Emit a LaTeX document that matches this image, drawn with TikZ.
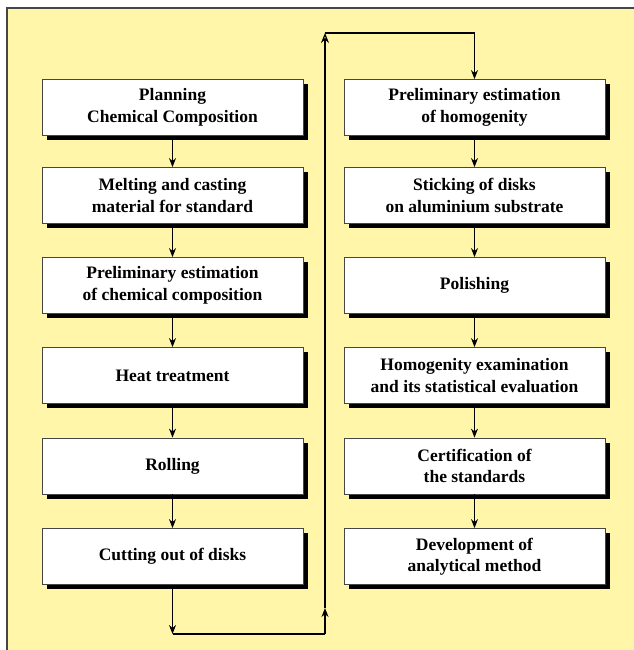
\documentclass[tikz,border=0pt]{standalone}
\usepackage{fontspec}
\setmainfont{Liberation Serif}
\usetikzlibrary{arrows.meta,shadows}
\definecolor{bgyellow}{RGB}{255,246,170}
\definecolor{framegray}{RGB}{70,70,70}
\tikzset{
  stepbox/.style={draw=framegray, line width=0.8pt, fill=white, minimum width=261pt, minimum height=56pt,
    inner sep=0pt, align=center, font=\fontsize{17.5}{21.5}\selectfont\bfseries,
    drop shadow={shadow xshift=4.5pt, shadow yshift=-4.5pt, fill=black, opacity=1}},
  conn/.style={line width=1.2pt, black},
  arr/.style={conn, -{Stealth[length=9pt,width=7pt]}},
  openarr/.style={conn, -{Stealth[open,length=10pt,width=8pt]}}
}
\begin{document}
\begin{tikzpicture}[x=1pt,y=-1pt]
\useasboundingbox (0,0) rectangle (633,650);
\fill[bgyellow] (7,8) rectangle (645,660);
\draw[framegray, line width=1.4pt] (7,660) -- (7,8) -- (645,8);
% left column
\node[stepbox] (l1) at (172.5,107.5) {Planning\\Chemical Composition};
\node[stepbox] (l2) at (172.5,195.5) {Melting and casting\\material for standard};
\node[stepbox] (l3) at (172.5,285.5) {Preliminary estimation\\of chemical composition};
\node[stepbox] (l4) at (172.5,375.5) {Heat treatment};
\node[stepbox] (l5) at (172.5,466) {Rolling};
\node[stepbox] (l6) at (172.5,556.5) {Cutting out of disks};
% right column
\node[stepbox] (r1) at (474.5,107.5) {Preliminary estimation\\of homogenity};
\node[stepbox] (r2) at (474.5,195.5) {Sticking of disks\\on aluminium substrate};
\node[stepbox] (r3) at (474.5,285.5) {Polishing};
\node[stepbox] (r4) at (474.5,375.5) {Homogenity examination\\and its statistical evaluation};
\node[stepbox] (r5) at (474.5,466) {Certification of\\the standards};
\node[stepbox] (r6) at (474.5,556.5) {Development of\\analytical method};
% vertical arrows
\foreach \a/\b in {l1/l2,l2/l3,l3/l4,l4/l5,l5/l6,r1/r2,r2/r3,r3/r4,r4/r5,r5/r6}
  \draw[arr] (\a.south) -- (\b.north);
% loop connector
\coordinate (c1) at (172.5,634);
\coordinate (c2) at (325,634);
\coordinate (c3) at (325,608);
\coordinate (c4) at (325,33);
\coordinate (c5) at (474.5,33);
\draw[arr] (l6.south) -- (c1);
\draw[conn] (c1) -- (c2);
\draw[arr] (c2) -- (c3);
\draw[openarr] (c3) -- (c4);
\draw[arr] (c4) -- (c5) -- (r1.north);
\end{tikzpicture}
\end{document}
